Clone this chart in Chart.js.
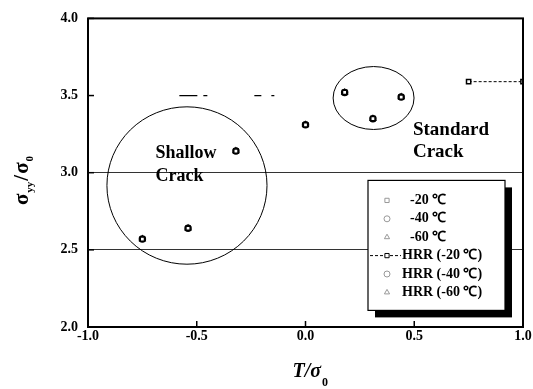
<!DOCTYPE html>
<html>
<head>
<meta charset="utf-8">
<script src="https://cdn.jsdelivr.net/npm/chart.js@4/dist/chart.umd.min.js"></script>
<style>
  html, body { margin: 0; padding: 0; background: #fff; }
  #wrap { width: 533px; height: 389px; }
</style>
</head>
<body>
<div id="wrap"><canvas id="chart"></canvas></div>
<script>
// T/sigma0 values and sigma_yy/sigma0 values
const tRatio = [-0.75, -0.54, -0.32, 0.0, 0.18, 0.31, 0.44]
const stress20 = [2.57, 2.64, 3.14, 3.31, 3.52, 3.35, 3.49]
const stress40 = [2.57, 2.64, 3.14, 3.31, 3.52, 3.35, 3.49]
const stress60 = [2.57, 2.64, 3.14, 3.31, 3.52, 3.35, 3.49]
const hrr20X = [0.75, 1.0]
const hrr20Y = [3.59, 3.59]
const hrr60X = [-0.58, -0.12]
const hrr60Y = [3.5, 3.5]
const seriesLabels = ['-20 \u2103', '-40 \u2103', '-60 \u2103', 'HRR (-20 \u2103)', 'HRR (-40 \u2103)', 'HRR (-60 \u2103)']
const xTicks = [-1.0, -0.5, 0.0, 0.5, 1.0]
const yTicks = [2.0, 2.5, 3.0, 3.5, 4.0]

// regions circled on the plot: [centre x, centre y, radius x, radius y]
const shallowRing = [-0.545, 2.917, 0.368, 0.51]
const standardRing = [0.313, 3.484, 0.186, 0.204]

const serif = '"Liberation Serif", "Times New Roman", serif'

const toPoints = (xs, ys) => xs.map((x, i) => ({ x: x, y: ys[i] }))

function markerSet(label, ys, style) {
  return {
    label: label,
    data: toPoints(tRatio, ys),
    showLine: false,
    pointStyle: style,
    pointRadius: 3,
    pointBorderWidth: 1.5,
    pointBorderColor: '#000',
    pointBackgroundColor: '#fff'
  }
}

const datasets = [
  markerSet(seriesLabels[0], stress20, 'rect'),
  markerSet(seriesLabels[1], stress40, 'circle'),
  markerSet(seriesLabels[2], stress60, 'triangle'),
  {
    label: seriesLabels[3],
    data: toPoints(hrr20X, hrr20Y),
    showLine: true,
    borderColor: '#000',
    borderWidth: 1,
    borderDash: [3, 2],
    pointStyle: 'rect',
    pointRadius: 3,
    pointBorderWidth: 1.5,
    pointBorderColor: '#000',
    pointBackgroundColor: '#fff'
  },
  {
    label: seriesLabels[4],
    data: [],
    showLine: false
  },
  {
    label: seriesLabels[5],
    data: toPoints(hrr60X, hrr60Y),
    showLine: true,
    borderColor: '#000',
    borderWidth: 1.2,
    borderDash: [18, 6, 4, 47, 7, 10, 3, 12, 2, 100],
    pointRadius: 0
  }
]

// frame, inward ticks, rings, notes, legend box and axis titles
const decorations = {
  id: 'decorations',
  beforeDatasetsDraw(chart) {
    const { ctx, scales: { x, y } } = chart
    ctx.save()
    ctx.strokeStyle = '#000'
    ctx.lineWidth = 1
    ;[shallowRing, standardRing].forEach(r => {
      const cx = x.getPixelForValue(r[0])
      const cy = y.getPixelForValue(r[1])
      const rx = Math.abs(x.getPixelForValue(r[0] + r[2]) - cx)
      const ry = Math.abs(y.getPixelForValue(r[1] + r[3]) - cy)
      ctx.beginPath()
      ctx.ellipse(cx, cy, rx, ry, 0, 0, Math.PI * 2)
      ctx.stroke()
    })

    ctx.fillStyle = '#000'
    ctx.textAlign = 'left'
    ctx.textBaseline = 'alphabetic'
    ctx.font = 'bold 18px ' + serif
    let px = x.getPixelForValue(-0.69), py = y.getPixelForValue(3.095)
    ctx.fillText('Shallow', px, py)
    ctx.fillText('Crack', px, py + 23)
    ctx.font = 'bold 19px ' + serif
    px = x.getPixelForValue(0.494); py = y.getPixelForValue(3.245)
    ctx.fillText('Standard', px, py)
    ctx.fillText('Crack', px, py + 22)
    ctx.restore()
  },
  afterDraw(chart) {
    const { ctx, chartArea: a, scales: { x, y } } = chart
    ctx.save()
    ctx.strokeStyle = '#000'
    ctx.lineWidth = 2
    ctx.strokeRect(a.left, a.top, a.right - a.left, a.bottom - a.top)

    ctx.lineWidth = 1.5
    xTicks.forEach(v => {
      const p = x.getPixelForValue(v)
      ctx.beginPath(); ctx.moveTo(p, a.bottom); ctx.lineTo(p, a.bottom - 6); ctx.stroke()
    })
    yTicks.forEach(v => {
      const p = y.getPixelForValue(v)
      ctx.beginPath(); ctx.moveTo(a.left, p); ctx.lineTo(a.left + 6, p); ctx.stroke()
    })

    // legend with drop shadow
    const lx = a.left + 280, ly = a.top + 162, lw = 137, lh = 130
    ctx.fillStyle = '#000'
    ctx.fillRect(lx + 7, ly + 7, lw, lh)
    ctx.fillStyle = '#fff'
    ctx.fillRect(lx, ly, lw, lh)
    ctx.lineWidth = 1.2
    ctx.strokeRect(lx, ly, lw, lh)

    const styles = ['rect', 'circle', 'triangle', 'rect', 'circle', 'triangle']
    ctx.font = 'bold 14px ' + serif
    ctx.textBaseline = 'middle'
    chart.data.datasets.forEach((ds, i) => {
      const ry = ly + 20 + i * 18.4
      const mx = lx + 19
      if (i === 3) {
        ctx.strokeStyle = '#000'
        ctx.lineWidth = 1
        ctx.setLineDash([3, 2])
        ctx.beginPath(); ctx.moveTo(lx + 2, ry); ctx.lineTo(lx + 33, ry); ctx.stroke()
        ctx.setLineDash([])
      }
      ctx.strokeStyle = i === 3 ? '#000' : '#999'
      ctx.fillStyle = '#fff'
      ctx.lineWidth = 1
      Chart.helpers.drawPoint(ctx, { pointStyle: styles[i], radius: 3, borderWidth: 1 }, mx, ry)
      ctx.fillStyle = '#000'
      const tx = ds.label.startsWith('HRR') ? lx + 34 : lx + 42
      ctx.fillText(ds.label, tx, ry)
    })

    // x axis title T/sigma0
    ctx.fillStyle = '#000'
    ctx.textBaseline = 'alphabetic'
    ctx.textAlign = 'left'
    ctx.font = 'italic bold 20px ' + serif
    const main = 'T/\u03c3'
    const mw = ctx.measureText(main).width
    const tx0 = (a.left + a.right) / 2 - 13
    ctx.fillText(main, tx0, 377)
    ctx.font = 'bold 12px ' + serif
    ctx.fillText('0', tx0 + mw + 1, 386)

    // y axis title sigma_yy/sigma0
    ctx.translate(28, 180)
    ctx.rotate(-Math.PI / 2)
    const parts = [
      ['\u03c3', 'bold 21px ' + serif, 0],
      ['yy', 'bold 11px ' + serif, 5],
      ['/', 'bold 21px ' + serif, 0],
      ['\u03c3', 'bold 21px ' + serif, 0],
      ['0', 'bold 11px ' + serif, 5]
    ]
    let total = 0
    parts.forEach(p => { ctx.font = p[1]; total += ctx.measureText(p[0]).width + 1 })
    let cx = -total / 2
    parts.forEach(p => {
      ctx.font = p[1]
      ctx.fillText(p[0], cx, p[2])
      cx += ctx.measureText(p[0]).width + 1
    })
    ctx.restore()
  }
}

const tickFont = { family: serif, size: 14, weight: 'bold' }

new Chart(document.getElementById('chart'), {
  type: 'scatter',
  data: { datasets: datasets },
  options: {
    responsive: true,
    maintainAspectRatio: false,
    animation: false,
    layout: { padding: { top: 13, right: 10, left: 0, bottom: 0 } },
    plugins: {
      legend: { display: false },
      tooltip: { enabled: false }
    },
    scales: {
      x: {
        type: 'linear',
        min: -1.0,
        max: 1.0,
        afterFit: s => { s.height = 62 },
        afterBuildTicks: s => { s.ticks = xTicks.map(v => ({ value: v })) },
        grid: { display: false, drawTicks: false },
        border: { display: false },
        ticks: {
          color: '#000',
          font: tickFont,
          padding: 1,
          maxRotation: 0,
          callback: v => v.toFixed(1)
        }
      },
      y: {
        type: 'linear',
        min: 2.0,
        max: 4.0,
        afterFit: s => { s.width = 88 },
        afterBuildTicks: s => { s.ticks = yTicks.map(v => ({ value: v })) },
        grid: {
          drawTicks: false,
          lineWidth: 1,
          color: c => (c.tick && (c.tick.value === 2.5 || c.tick.value === 3.0)) ? '#333' : 'rgba(0,0,0,0)'
        },
        border: { display: false },
        ticks: {
          color: '#000',
          font: tickFont,
          padding: 10,
          callback: v => v.toFixed(1)
        }
      }
    }
  },
  plugins: [decorations]
})
</script>
</body>
</html>
